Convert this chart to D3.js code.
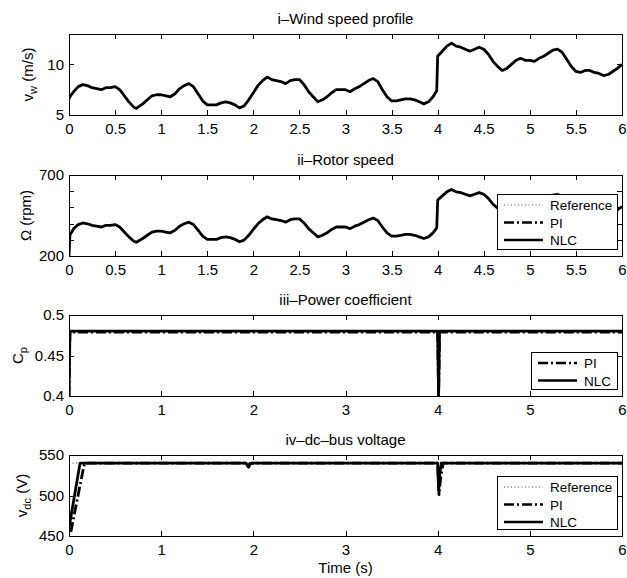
<!DOCTYPE html>
<meta charset="utf-8">
<style>
  body { margin: 0; background: #fff; }
  svg text { font-family: "Liberation Sans", Arial, Helvetica, sans-serif; fill: #000; }
  .axis text { font-size: 15px; }
  .axis path { display: none; }
  .axis line { stroke: #000; shape-rendering: crispEdges; }
</style>
<body>
<script src="https://cdnjs.cloudflare.com/ajax/libs/d3/7.8.5/d3.min.js"></script>
<script>
// sample times shared by wind and rotor speed (s)
var time = [
  0, 0.01, 0.05, 0.1, 0.15, 0.2, 0.25, 0.3, 0.35, 0.4,
  0.45, 0.5, 0.55, 0.6, 0.65, 0.7, 0.73, 0.8, 0.85, 0.9,
  0.95, 1.0, 1.05, 1.1, 1.15, 1.2, 1.25, 1.3, 1.35, 1.4,
  1.45, 1.5, 1.55, 1.6, 1.65, 1.7, 1.75, 1.8, 1.85, 1.9,
  1.95, 2.0, 2.05, 2.1, 2.15, 2.2, 2.25, 2.3, 2.35, 2.4,
  2.45, 2.5, 2.55, 2.6, 2.65, 2.7, 2.75, 2.8, 2.85, 2.9,
  2.95, 3.0, 3.05, 3.1, 3.15, 3.2, 3.25, 3.3, 3.35, 3.4,
  3.45, 3.5, 3.55, 3.6, 3.65, 3.7, 3.75, 3.8, 3.85, 3.9,
  3.95, 3.99, 4.0, 4.05, 4.1, 4.15, 4.2, 4.25, 4.3, 4.35,
  4.4, 4.45, 4.5, 4.55, 4.6, 4.65, 4.7, 4.75, 4.8, 4.85,
  4.9, 4.95, 5.0, 5.05, 5.1, 5.15, 5.2, 5.25, 5.3, 5.35,
  5.4, 5.45, 5.5, 5.55, 5.6, 5.65, 5.7, 5.75, 5.8, 5.85,
  5.9, 5.95, 6.0
];

// wind speed (m/s)
var windSpeed = [
  6.6, 6.8, 7.3, 7.8, 8.0, 7.9, 7.7, 7.6, 7.5, 7.7,
  7.7, 7.8, 7.5, 6.9, 6.3, 5.8, 5.65, 6.1, 6.5, 6.9,
  7.0, 7.0, 6.9, 6.8, 7.1, 7.6, 7.9, 8.1, 7.8, 7.1,
  6.4, 6.0, 6.0, 6.0, 6.2, 6.3, 6.2, 6.0, 5.7, 5.9,
  6.5, 7.2, 7.9, 8.4, 8.75, 8.5, 8.4, 8.3, 8.1, 8.4,
  8.5, 8.5, 8.0, 7.3, 6.8, 6.3, 6.5, 6.8, 7.2, 7.5,
  7.5, 7.5, 7.3, 7.6, 7.8, 8.1, 8.4, 8.6, 8.3, 7.5,
  6.8, 6.4, 6.4, 6.5, 6.6, 6.6, 6.5, 6.3, 6.1, 6.3,
  6.8, 7.4, 10.8, 11.3, 11.8, 12.1, 11.8, 11.7, 11.5, 11.3,
  11.5, 11.7, 11.5, 11.0, 10.3, 9.8, 9.4, 9.6, 10.0, 10.4,
  10.6, 10.4, 10.4, 10.3, 10.6, 10.8, 11.1, 11.4, 11.5, 11.2,
  10.5, 9.8, 9.3, 9.2, 9.4, 9.4, 9.2, 9.1, 8.9, 9.0,
  9.3, 9.6, 10.0
];

// rotor speed (rpm)
var rotorSpeed = [
  200, 330, 368, 394, 404, 399, 389, 384, 379, 389,
  389, 394, 379, 348, 318, 293, 285, 308, 328, 348,
  354, 354, 348, 343, 359, 384, 399, 409, 394, 359,
  323, 303, 303, 303, 313, 318, 313, 303, 288, 298,
  328, 364, 399, 424, 442, 429, 424, 419, 409, 424,
  429, 429, 404, 369, 343, 318, 328, 343, 364, 379,
  379, 379, 369, 384, 394, 409, 424, 434, 419, 379,
  343, 323, 323, 328, 333, 333, 328, 318, 308, 318,
  343, 374, 545, 571, 596, 611, 596, 591, 581, 571,
  581, 591, 581, 556, 520, 495, 475, 485, 505, 525,
  535, 525, 525, 520, 535, 545, 561, 576, 581, 566,
  530, 495, 470, 465, 475, 475, 465, 460, 449, 455,
  470, 485, 505
];

// power coefficient
var cpTime = [0, 0.01, 4.0, 4.01, 4.02, 6];
var cpNLC  = [0.40, 0.48, 0.48, 0.40, 0.48, 0.48];
var cpPI   = [0.40, 0.479, 0.479, 0.40, 0.479, 0.479];

// dc-bus voltage (V)
var vdcTimeNLC = [0, 0.12, 1.92, 1.94, 1.96, 2.0, 4.0, 4.01, 4.02, 4.04, 6];
var vdcNLC     = [460, 540, 540, 536, 539, 540, 540, 507, 525, 540, 540];
var vdcTimePI  = [0.02, 0.15, 0.17, 1.92, 1.95, 1.97, 4.0, 4.015, 4.03, 4.06, 6];
var vdcPI      = [455, 530, 540, 540, 535, 540, 540, 501, 520, 540, 540];
var vdcTimeRef = [0, 6];
var vdcRef     = [540, 540];

var xTicksFine = [0, 0.5, 1, 1.5, 2, 2.5, 3, 3.5, 4, 4.5, 5, 5.5, 6];
var xTicksCoarse = [0, 1, 2, 3, 4, 5, 6];

var W = 627, H = 578;
var left = 69, right = 622, plotH = 81;

var svg = d3.select("body").append("svg")
  .attr("width", W)
  .attr("height", H);

var x = d3.scaleLinear().domain([0, 6]).range([left, right]);

function zip(xs, ys) {
  return xs.map(function(t, i) { return [t, ys[i]]; });
}

var dashes = {
  nlc: null,
  pi: "10,3,2,3",
  ref: "1,2.5"
};

function drawPanel(o) {
  var top = o.top, bottom = top + plotH;
  var y = d3.scaleLinear().domain(o.yDomain).range([bottom, top]);
  var g = svg.append("g");

  var clipId = "clip" + o.id;
  svg.append("clipPath").attr("id", clipId)
    .append("rect")
    .attr("x", left).attr("y", top)
    .attr("width", right - left).attr("height", plotH);

  // axes, ticks pointing inward
  g.append("g").attr("class", "axis")
    .attr("transform", "translate(0," + bottom + ")")
    .call(d3.axisBottom(x).tickValues(o.xTicks).tickSize(-5).tickPadding(8)
      .tickFormat(function(d) { return d3.format("")(d); }));
  g.append("g").attr("class", "axis")
    .attr("transform", "translate(0," + top + ")")
    .call(d3.axisTop(x).tickValues(o.xTicks).tickSize(-5).tickFormat(""));
  g.append("g").attr("class", "axis")
    .attr("transform", "translate(" + left + ",0)")
    .call(d3.axisLeft(y).tickValues(o.yTicks).tickSize(-5).tickPadding(5)
      .tickFormat(o.yFormat));
  g.append("g").attr("class", "axis")
    .attr("transform", "translate(" + right + ",0)")
    .call(d3.axisRight(y).tickValues(o.yTicks).tickSize(-5).tickFormat(""));

  g.append("rect")
    .attr("x", left).attr("y", top)
    .attr("width", right - left).attr("height", plotH)
    .attr("fill", "none").attr("stroke", "#000").attr("stroke-width", 1)
    .attr("shape-rendering", "crispEdges");

  var line = d3.line()
    .x(function(d) { return x(d[0]); })
    .y(function(d) { return y(d[1]); });

  var lines = g.append("g").attr("clip-path", "url(#" + clipId + ")");
  o.series.forEach(function(s) {
    lines.append("path")
      .attr("d", line(zip(s.t, s.v)))
      .attr("fill", "none")
      .attr("stroke", s.kind === "ref" ? "#444" : "#000")
      .attr("stroke-width", s.kind === "ref" ? 1 : 2.8)
      .attr("stroke-linejoin", "round")
      .attr("stroke-dasharray", dashes[s.kind]);
  });

  // title
  g.append("text")
    .attr("x", (left + right) / 2).attr("y", top - 10.5)
    .attr("text-anchor", "middle")
    .style("font-size", "15px")
    .text(o.title);

  // y label with subscript
  var yl = g.append("text")
    .attr("transform", "translate(" + o.ylabelX + "," + (top + plotH / 2) + ") rotate(-90)")
    .attr("text-anchor", "middle")
    .style("font-size", "15px");
  yl.append("tspan").text(o.ylabel[0]);
  if (o.ylabel[1]) {
    yl.append("tspan").attr("dy", 4).style("font-size", "11px").text(o.ylabel[1]);
    yl.append("tspan").attr("dy", -4).text(o.ylabel[2]);
  } else {
    yl.append("tspan").text(o.ylabel[2]);
  }

  if (o.legend) {
    var lg = o.legend;
    var lgG = g.append("g");
    lgG.append("rect")
      .attr("x", lg.x0).attr("y", lg.y0)
      .attr("width", right - 5 - lg.x0).attr("height", bottom - 7 - lg.y0)
      .attr("fill", "#fff").attr("stroke", "#000").attr("stroke-width", 1)
      .attr("shape-rendering", "crispEdges");
    lg.items.forEach(function(it, i) {
      var cy = lg.y0 + 11 + i * 17.5;
      lgG.append("line")
        .attr("x1", lg.x0 + 7).attr("x2", lg.x0 + 46)
        .attr("y1", cy).attr("y2", cy)
        .attr("stroke", it.kind === "ref" ? "#444" : "#000")
        .attr("stroke-width", it.kind === "ref" ? 1 : 2.5)
        .attr("stroke-dasharray", dashes[it.kind]);
      lgG.append("text")
        .attr("x", lg.x0 + 53).attr("y", cy + 5)
        .style("font-size", "13.5px")
        .text(it.name);
    });
  }
  return g;
}

var legend3 = [
  {name: "Reference", kind: "ref"},
  {name: "PI", kind: "pi"},
  {name: "NLC", kind: "nlc"}
];

drawPanel({
  id: 1, top: 34, yDomain: [5, 13], yTicks: [5, 10],
  yFormat: d3.format("d"), xTicks: xTicksFine,
  title: "i\u2013Wind speed profile",
  ylabel: ["v", "w", " (m/s)"], ylabelX: 33,
  series: [{t: time, v: windSpeed, kind: "nlc"}]
});

drawPanel({
  id: 2, top: 175, yDomain: [200, 700], yTicks: [200, 300, 400, 500, 600, 700],
  yFormat: function(d) { return (d === 200 || d === 700) ? d : ""; },
  xTicks: xTicksFine,
  title: "ii\u2013Rotor speed",
  ylabel: ["\u03A9 (rpm)", null, ""], ylabelX: 31,
  series: [{t: time, v: rotorSpeed, kind: "nlc"}],
  legend: {x0: 497, y0: 194, items: legend3}
});

drawPanel({
  id: 3, top: 315, yDomain: [0.4, 0.5], yTicks: [0.4, 0.45, 0.5],
  yFormat: d3.format(""), xTicks: xTicksCoarse,
  title: "iii\u2013Power coefficient",
  ylabel: ["C", "p", ""], ylabelX: 23,
  series: [
    {t: cpTime, v: cpPI, kind: "pi"},
    {t: cpTime, v: cpNLC, kind: "nlc"}
  ],
  legend: {x0: 531, y0: 352, items: legend3.slice(1)}
});

drawPanel({
  id: 4, top: 455, yDomain: [450, 550], yTicks: [450, 500, 550],
  yFormat: d3.format("d"), xTicks: xTicksCoarse,
  title: "iv\u2013dc\u2013bus voltage",
  ylabel: ["v", "dc", " (V)"], ylabelX: 27,
  series: [
    {t: vdcTimeRef, v: vdcRef, kind: "ref"},
    {t: vdcTimePI, v: vdcPI, kind: "pi"},
    {t: vdcTimeNLC, v: vdcNLC, kind: "nlc"}
  ],
  legend: {x0: 497, y0: 476, items: legend3}
});

svg.append("text")
  .attr("x", (left + right) / 2).attr("y", 573)
  .attr("text-anchor", "middle")
  .style("font-size", "15px")
  .text("Time (s)");
</script>
</body>
